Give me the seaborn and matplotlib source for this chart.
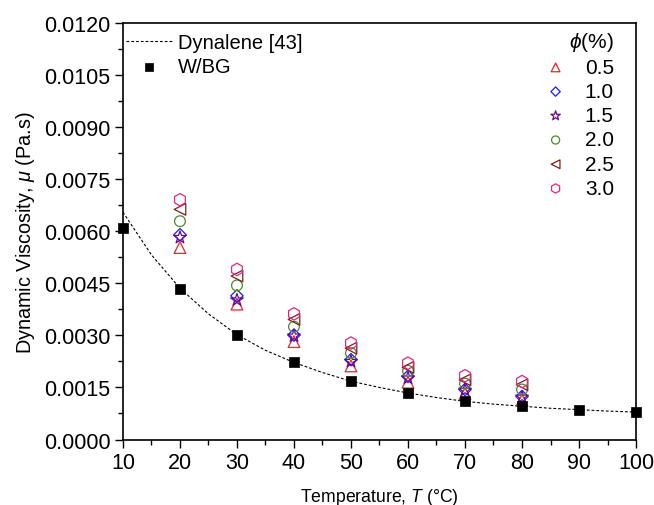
import matplotlib
matplotlib.use("Agg")
import matplotlib.pyplot as plt
import seaborn as sns
import numpy as np
import pandas as pd

# ---- data ----
temp_dyn = [10, 15, 20, 25, 30, 35, 40, 45, 50, 55, 60, 65, 70, 75, 80, 85, 90, 95, 100]
mu_dyn = [0.00655, 0.00532, 0.00436, 0.00362, 0.00302, 0.00257, 0.00222, 0.00193, 0.00168,
          0.00150, 0.00134, 0.00121, 0.00110, 0.00102, 0.00096, 0.00090, 0.00086, 0.00082, 0.00079]

temp_wbg = [10, 20, 30, 40, 50, 60, 70, 80, 90, 100]
mu_wbg = [0.00609, 0.00435, 0.00301, 0.00223, 0.00168, 0.00134, 0.00110, 0.00096, 0.00085, 0.00078]

temp_nf = [20, 30, 40, 50, 60, 70, 80]
phi_labels = ["0.5", "1.0", "1.5", "2.0", "2.5", "3.0"]
mu_05 = [0.00553, 0.00390, 0.00282, 0.00212, 0.00165, 0.00132, 0.00113]
mu_10 = [0.00590, 0.00414, 0.00301, 0.00230, 0.00182, 0.00144, 0.00124]
mu_15 = [0.00582, 0.00402, 0.00298, 0.00225, 0.00177, 0.00142, 0.00122]
mu_20 = [0.00629, 0.00444, 0.00325, 0.00249, 0.00198, 0.00161, 0.00144]
mu_25 = [0.00663, 0.00471, 0.00346, 0.00263, 0.00208, 0.00172, 0.00158]
mu_30 = [0.00691, 0.00490, 0.00362, 0.00278, 0.00220, 0.00184, 0.00167]

x_ticks = [10, 20, 30, 40, 50, 60, 70, 80, 90, 100]
y_ticks = [0.0, 0.0015, 0.0030, 0.0045, 0.0060, 0.0075, 0.0090, 0.0105, 0.0120]

# ---- style ----
sns.set_theme(style="ticks")
plt.rcParams['font.family'] = ['Liberation Sans', 'DejaVu Sans']
plt.rcParams['mathtext.fontset'] = 'custom'
plt.rcParams['mathtext.rm'] = 'Liberation Sans'
plt.rcParams['mathtext.it'] = 'Liberation Sans:italic'
plt.rcParams['text.color'] = 'black'
plt.rcParams['axes.labelcolor'] = 'black'
plt.rcParams['xtick.color'] = 'black'
plt.rcParams['ytick.color'] = 'black'

fig = plt.figure(figsize=(6.54, 5.06), dpi=100)
ax = fig.add_axes([0.188, 0.1294, 0.7845, 0.8232])

df_dyn = pd.DataFrame({"T": temp_dyn, "mu": mu_dyn})
sns.lineplot(data=df_dyn, x="T", y="mu", ax=ax, color="black", linewidth=0.8,
             linestyle=(0, (2.5, 1.8)), label="Dynalene [43]", legend=False)
line_handle = ax.lines[-1]

df_wbg = pd.DataFrame({"T": temp_wbg, "mu": mu_wbg})
sns.scatterplot(data=df_wbg, x="T", y="mu", ax=ax, marker="s", s=42, color="black",
                edgecolor="black", linewidth=0.5, legend=False, zorder=5, clip_on=False)
wbg_handle = ax.collections[-1]

series = [mu_05, mu_10, mu_15, mu_20, mu_25, mu_30]
markers = ["^", "D", "*", "o", "<", "h"]
sizes = [70, 40, 90, 60, 70, 80]
colors = ["#e8242c", "#1a1aff", "#6a0a8a", "#4b8b2b", "#7a2020", "#e0287e"]
nf_handles = []
for vals, m, sz, c in zip(series, markers, sizes, colors):
    d = pd.DataFrame({"T": temp_nf, "mu": vals})
    sns.scatterplot(data=d, x="T", y="mu", ax=ax, marker=m, s=sz, color=c,
                    facecolors="none", edgecolors=c, linewidth=0.9, legend=False, zorder=4)
    nf_handles.append(ax.collections[-1])

ax.set_xlim(10, 100)
ax.set_ylim(0, 0.012)
ax.set_xticks(x_ticks)
ax.set_yticks(y_ticks)
ax.set_yticklabels([f"{v:.4f}" for v in y_ticks])
ax.set_xticks(np.arange(15, 100, 10), minor=True)
ax.set_yticks(np.arange(0.00075, 0.012, 0.0015), minor=True)
ax.tick_params(axis="both", which="major", direction="out", length=6, width=1,
               labelsize=15.5, color="black", labelcolor="black", pad=3)
ax.tick_params(axis="both", which="minor", direction="out", length=3.5, width=1, color="black")
for sp in ax.spines.values():
    sp.set_color("black")
    sp.set_linewidth(1.2)

ax.set_xlabel("Temperature, $T$ (°C)", fontsize=12.7, labelpad=9, color="black")
ax.set_ylabel("Dynamic Viscosity, $\\mu$ (Pa.s)", fontsize=14.3, labelpad=5, color="black")

leg1 = ax.legend([line_handle, wbg_handle], ["Dynalene [43]", "W/BG"], loc="upper left",
                 frameon=False, fontsize=14.5, handlelength=2.3, handletextpad=0.3,
                 borderaxespad=0.0, borderpad=0.3, labelspacing=0.25, markerscale=0.8,
                 bbox_to_anchor=(-0.006, 0.990))
for t in leg1.get_texts():
    t.set_color("black")
ax.add_artist(leg1)

leg2 = ax.legend(nf_handles, phi_labels, loc="upper right", frameon=False,
                 fontsize=15, title="$\\phi$(%)", title_fontsize=15,
                 handletextpad=0.4, labelspacing=0.25, markerscale=0.75,
                 borderaxespad=0.0, borderpad=0.2, bbox_to_anchor=(0.965, 0.994))
leg2._legend_box.align = "right"
for t in leg2.get_texts():
    t.set_color("black")
leg2.get_title().set_color("black")

fig.savefig("out.png", dpi=100)
